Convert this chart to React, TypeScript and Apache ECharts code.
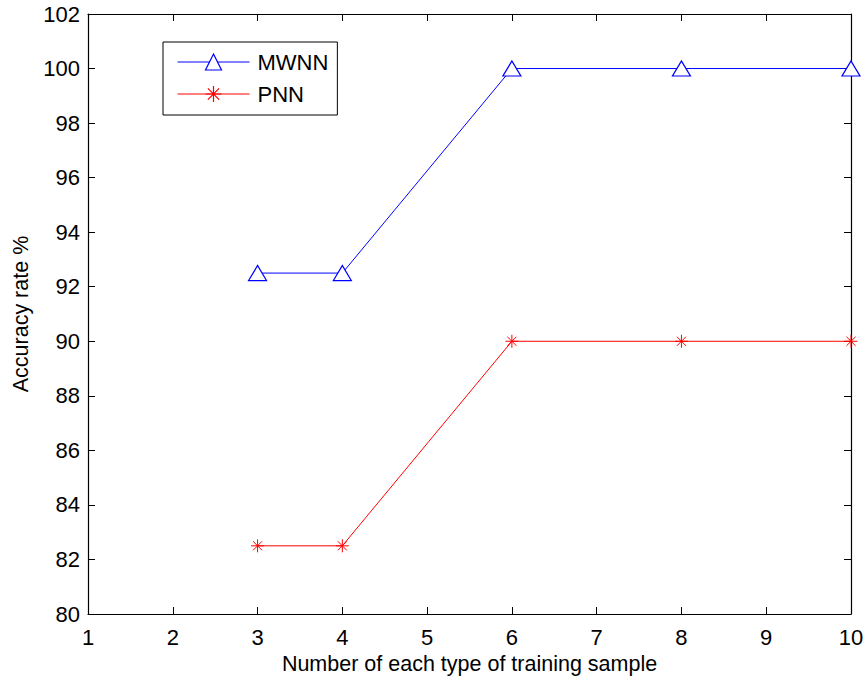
import React, { useEffect, useRef } from "react";
import * as echarts from "echarts";

const xSamples = [3, 4, 6, 8, 10];
const mwnnValues = [92.5, 92.5, 100, 100, 100];
const pnnValues = [82.5, 82.5, 90, 90, 90];
const seriesNames = ["MWNN", "PNN"];

const asterisk =
  "path://M6,0L6,12M0,6L12,6M1.8,1.8L10.2,10.2M10.2,1.8L1.8,10.2";

export default function App() {
  const ref = useRef<HTMLDivElement>(null);
  useEffect(() => {
    if (!ref.current) return;
    const chart = echarts.init(ref.current, undefined, { renderer: "svg" });
    const font = "Liberation Sans, Arial, sans-serif";
    const axisLine = { show: true, lineStyle: { color: "#000", width: 1.2 } };
    const tick = { show: true, inside: true, length: 7, lineStyle: { color: "#000" } };
    chart.setOption({
      animation: false,
      backgroundColor: "#fff",
      textStyle: { fontFamily: font },
      grid: {
        left: 88,
        right: 15,
        top: 14,
        bottom: 69,
        containLabel: false,
        outerBoundsMode: "none",
      },
      legend: {
        orient: "vertical",
        left: 163,
        top: 42,
        padding: [8, 9, 9, 14],
        itemGap: 8,
        itemWidth: 72,
        itemHeight: 20,
        borderColor: "#000",
        borderWidth: 1,
        borderRadius: 0,
        backgroundColor: "#fff",
        lineStyle: { width: 1 },
        itemStyle: { borderWidth: 1.2 },
        textStyle: { fontSize: 22, color: "#000", fontFamily: font, padding: [0, 0, 0, 3], lineHeight: 24 },
        data: seriesNames,
      },
      xAxis: [
        {
          type: "value",
          min: 1,
          max: 10,
          interval: 1,
          name: "Number of each type of training sample",
          nameLocation: "middle",
          nameGap: 38,
          nameTextStyle: { fontSize: 21.5, color: "#000", fontFamily: font },
          axisLine,
          axisTick: tick,
          axisLabel: { fontSize: 22, color: "#000", margin: 12, fontFamily: font },
          splitLine: { show: false },
        },
        {
          type: "value",
          position: "top",
          min: 1,
          max: 10,
          interval: 1,
          axisLine,
          axisTick: tick,
          axisLabel: { show: false },
          splitLine: { show: false },
        },
      ],
      yAxis: [
        {
          type: "value",
          min: 80,
          max: 102,
          interval: 2,
          name: "Accuracy rate %",
          nameLocation: "middle",
          nameGap: 54,
          nameTextStyle: { fontSize: 21.5, color: "#000", fontFamily: font },
          axisLine,
          axisTick: tick,
          axisLabel: { fontSize: 22, color: "#000", margin: 8, fontFamily: font },
          splitLine: { show: false },
        },
        {
          type: "value",
          position: "right",
          min: 80,
          max: 102,
          interval: 2,
          axisLine,
          axisTick: tick,
          axisLabel: { show: false },
          splitLine: { show: false },
        },
      ],
      series: [
        {
          name: seriesNames[0],
          type: "line",
          data: xSamples.map((x, i) => [x, mwnnValues[i]]),
          symbol: "triangle",
          symbolSize: [18, 15],
          showAllSymbol: true,
          lineStyle: { color: "#0000ff", width: 1 },
          itemStyle: { color: "#fff", borderColor: "#0000ff", borderWidth: 1.2 },
          z: 3,
        },
        {
          name: seriesNames[1],
          type: "line",
          data: xSamples.map((x, i) => [x, pnnValues[i]]),
          symbol: asterisk,
          symbolSize: 13,
          showAllSymbol: true,
          lineStyle: { color: "#ff0000", width: 1 },
          itemStyle: { color: "none", borderColor: "#ff0000", borderWidth: 1 },
          z: 3,
        },
      ],
    });
    return () => chart.dispose();
  }, []);
  return (
    <div
      ref={ref}
      style={{ position: "absolute", left: 0, top: 0, width: 866, height: 683 }}
    />
  );
}
